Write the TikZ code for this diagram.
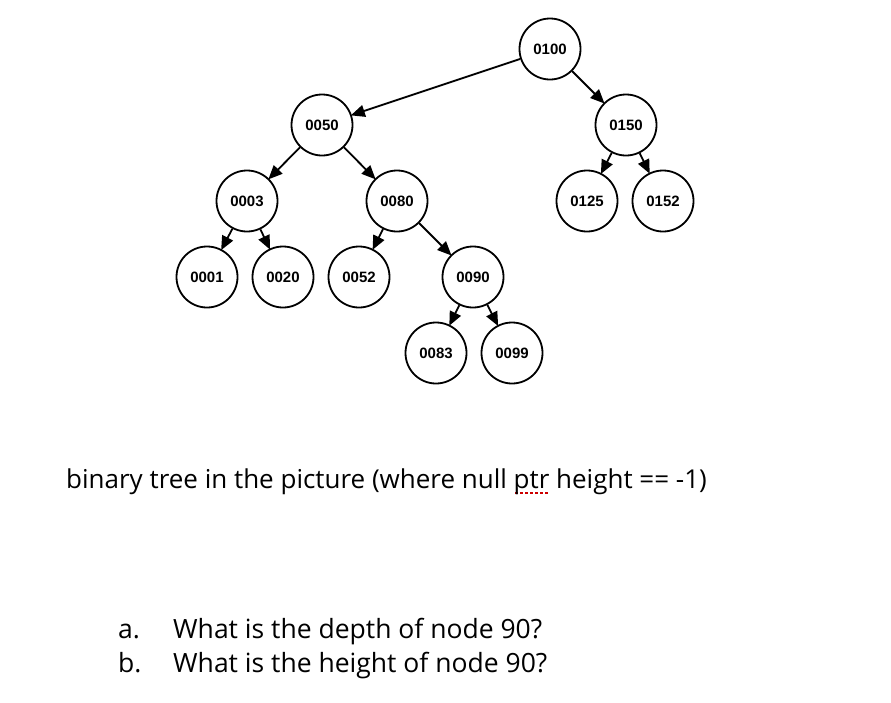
\documentclass[tikz,border=0pt]{standalone}
\usepackage{fontspec}
\setmainfont{Open Sans}
\newfontfamily\nodefont{Liberation Sans}
\usetikzlibrary{arrows.meta}
\newcommand\squigword[1]{\setbox0\hbox{#1}\rlap{\raisebox{-6pt}{\color{red!80!black}\hbox to \wd0{\xleaders\hbox to 4.5pt{\hss\rule{3pt}{1.6pt}\hss}\hfil}}}#1}
\begin{document}
\begin{tikzpicture}[x=1pt,y=-1pt,
  tn/.style={circle,draw,line width=1.8pt,minimum size=61pt,inner sep=0pt,
    font=\nodefont\fontsize{15}{17}\bfseries\selectfont},
  edge/.style={line width=1.8pt,-{Triangle[length=14pt,width=12pt]},shorten >=-1pt},
  txt/.style={anchor=base west,inner sep=0pt,font=\fontsize{26}{30}\selectfont}]
\useasboundingbox (0,0) rectangle (891,702);
\node[tn] (n100) at (550,49) {0100};
\node[tn] (n50) at (322,125) {0050};
\node[tn] (n150) at (626,125) {0150};
\node[tn] (n3) at (247,201) {0003};
\node[tn] (n80) at (397,201) {0080};
\node[tn] (n125) at (587,201) {0125};
\node[tn] (n152) at (663,201) {0152};
\node[tn] (n1) at (207,277) {0001};
\node[tn] (n20) at (283,277) {0020};
\node[tn] (n52) at (359,277) {0052};
\node[tn] (n90) at (473,277) {0090};
\node[tn] (n83) at (436,353) {0083};
\node[tn] (n99) at (512,353) {0099};
\foreach \a/\b in {n100/n50,n100/n150,n50/n3,n50/n80,n150/n125,n150/n152,
  n3/n1,n3/n20,n80/n52,n80/n90,n90/n83,n90/n99}
  \draw[edge] (\a) -- (\b);
\node[txt] (t1) at (66,488) {binary tree in the picture (where null \squigword{ptr} height == -1)};
\node[txt,font=\fontsize{26.5}{30}\selectfont] (qa) at (118,638) {a.};
\node[txt,font=\fontsize{26.5}{30}\selectfont] (qat) at (173,638) {What is the depth of node 90?};
\node[txt,font=\fontsize{26.5}{30}\selectfont] (qb) at (118,672) {b.};
\node[txt,font=\fontsize{26.5}{30}\selectfont] (qbt) at (173,672) {What is the height of node 90?};
\end{tikzpicture}
\end{document}
